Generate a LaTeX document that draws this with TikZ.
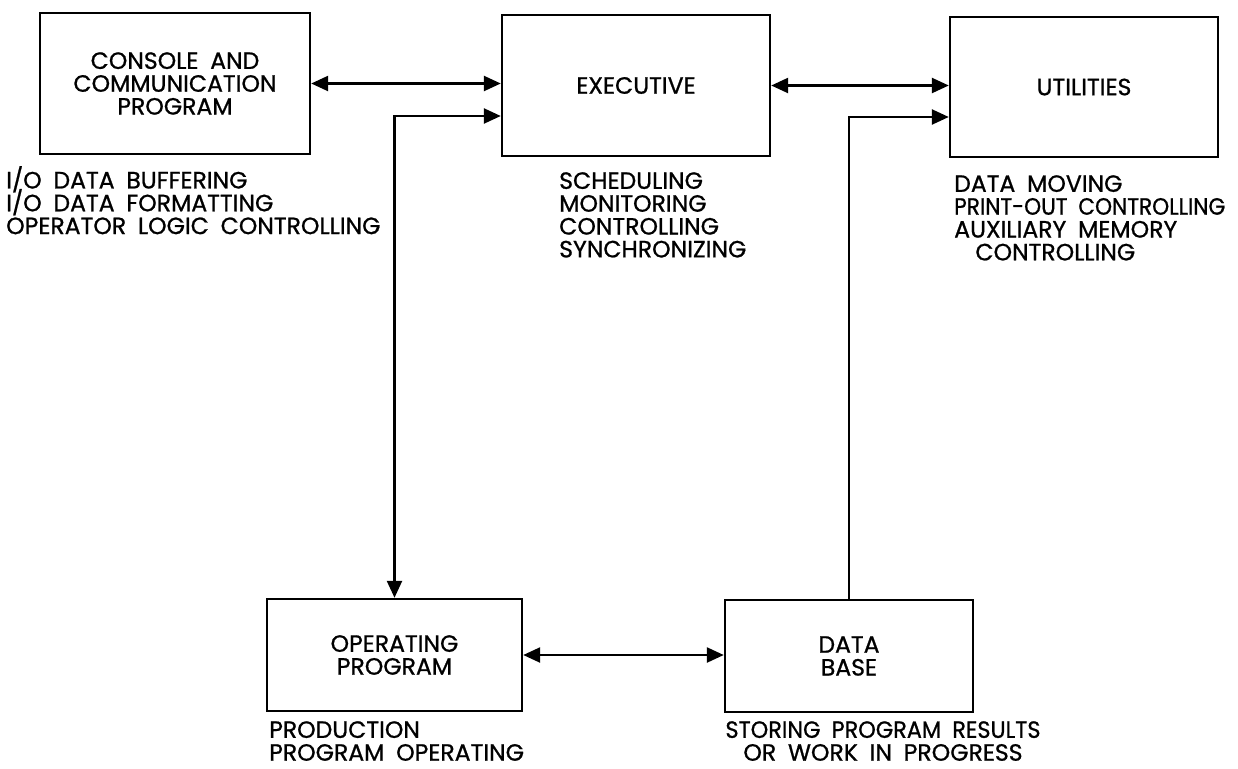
\documentclass[tikz,border=0pt]{standalone}
\usepackage{fontspec}
\setmainfont{Poppins}[FakeBold=0.9]
\usetikzlibrary{arrows.meta}

\newcommand\blockfont{\fontsize{13.4}{13}\selectfont\lineskiplimit=-5pt\spaceskip=0.5em\relax}

\tikzset{
    blk/.style={draw, align=center, inner sep=0pt},
    note/.style={anchor=north west, align=left, inner sep=0pt},
}

\begin{document}
\begin{tikzpicture}[x=0.02cm, y=-0.02cm, line width=1.4pt, font=\blockfont,
    >={Triangle[length=0.34cm,width=0.3cm]}]
    \useasboundingbox (0,0) rectangle (1238,768);

    % program blocks
    \node[blk, minimum width=5.4cm, minimum height=2.82cm] (con) at (175,83.5) {CONSOLE AND\\COMMUNICATION\\PROGRAM};
    \node[blk, minimum width=5.36cm, minimum height=2.82cm] (exe) at (636,85.5) {EXECUTIVE};
    \node[blk, minimum width=5.36cm, minimum height=2.8cm] (uti) at (1084,87) {UTILITIES};
    \node[blk, minimum width=5.1cm, minimum height=2.24cm] (ope) at (394.5,655) {OPERATING\\PROGRAM};
    \node[blk, minimum width=4.96cm, minimum height=2.24cm] (dat) at (849,656) {DATA\\BASE};

    \coordinate (exein) at ([yshift=-0.61cm]exe.west);
    \coordinate (utiin) at ([yshift=-0.6cm]uti.west);

    \draw[<->] (con.east) -- (con.east -| exe.west);
    \draw[<->] (ope.north) |- (exein);
    \draw[<->] (exe.east) -- (exe.east -| uti.west);
    \draw[->] (dat.north) |- (utiin);
    \draw[<->] (ope.east) -- (ope.east -| dat.west);

    % duties under each block
    \node[note] (conlab) at (5,165) {I/O DATA BUFFERING\\I/O DATA FORMATTING\\OPERATOR LOGIC CONTROLLING};
    \node[note] (exelab) at (558,171) {SCHEDULING\\MONITORING\\CONTROLLING\\SYNCHRONIZING};
    \node[note] (utilab) at (953,174) {DATA MOVING\\\scalebox{0.92}[1]{PRINT-OUT CONTROLLING}\\AUXILIARY MEMORY\\\hspace{0.9em}CONTROLLING};
    \node[note] (opelab) at (268,720) {PRODUCTION\\PROGRAM OPERATING};
    \node[note, anchor=north, align=center] (datlab) at (883,720) {\scalebox{0.95}[1]{STORING PROGRAM RESULTS}\\OR WORK IN PROGRESS};
\end{tikzpicture}
\end{document}
